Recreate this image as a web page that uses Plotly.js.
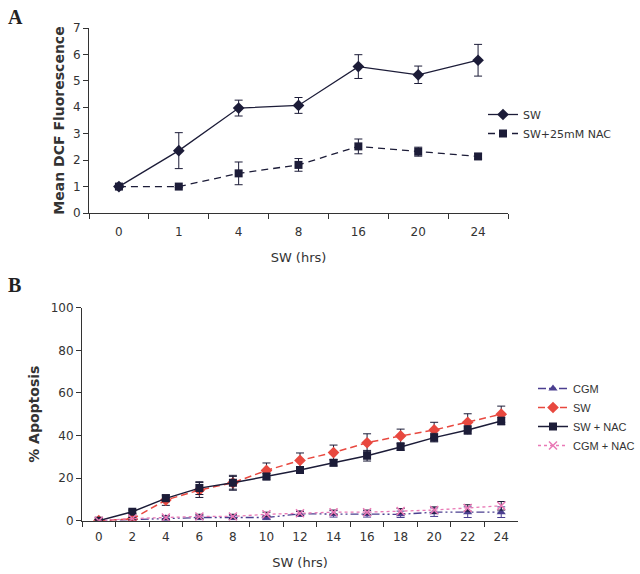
<!DOCTYPE html>
<html>
<head>
<meta charset="utf-8">
<script src="https://cdn.plot.ly/plotly-3.0.1.min.js"></script>
<style>
  html, body { margin: 0; padding: 0; background: #fff; overflow: hidden; }
  #chart { width: 640px; height: 574px; }
</style>
</head>
<body>
<div id="chart"></div>
<script>
// Panel A: DCF fluorescence
const hoursA = ['0', '1', '4', '8', '16', '20', '24'];
const swA = [1.0, 2.36, 3.97, 4.07, 5.54, 5.23, 5.78];
const swAErr = [0.05, 0.68, 0.3, 0.3, 0.45, 0.33, 0.6];
const nacA = [1.0, 1.0, 1.5, 1.82, 2.52, 2.32, 2.14];
const nacAErr = [0.05, 0.03, 0.43, 0.24, 0.28, 0.17, 0.1];

// Panel B: % apoptosis
const hoursB = ['0', '2', '4', '6', '8', '10', '12', '14', '16', '18', '20', '22', '24'];
const cgmB = [0, 0.5, 1.2, 1.5, 1.5, 1.5, 3.2, 3.2, 3.2, 3.0, 4.0, 4.0, 4.0];
const cgmBErr = [0.5, 0.5, 1, 1, 1, 1, 1.2, 1.5, 1.5, 1.5, 2, 2.5, 2.5];
const swB = [0, 0.8, 9.7, 14.4, 17.8, 23.6, 28.3, 32, 36.6, 39.8, 42.6, 46.2, 50];
const swBErr = [0.5, 1, 2.5, 3.5, 3.5, 3.5, 3.5, 3.5, 4.2, 3.2, 3.6, 4, 3.8];
const nacB = [0, 4.2, 10.5, 15.3, 17.8, 20.7, 23.8, 27.2, 30.5, 34.6, 39, 42.6, 46.8];
const nacBErr = [0.5, 0.8, 1.2, 3, 3, 1.5, 1.5, 1.5, 2.5, 1.5, 2, 2, 1.8];
const cgmNacB = [0, 1, 1.5, 2, 2, 3, 3.5, 4, 4, 4.5, 5, 6, 7];
const cgmNacBErr = [0.5, 0.5, 0.8, 1, 1, 1, 1, 1, 1, 1.2, 1.5, 1.5, 2];

const navy = '#1c1c38';
const red = '#e8483f';
const purple = '#4b3f90';
const pink = '#e979b6';

function errBar(arr, color) {
    return { type: 'data', array: arr, visible: true, color: color, thickness: 1, width: 4 };
}

const traces = [
    {
        x: hoursA, y: swA, name: 'SW', mode: 'lines+markers',
        line: { color: navy, width: 1.3 },
        marker: { symbol: 'diamond', size: 9, color: navy },
        error_y: errBar(swAErr, navy),
        xaxis: 'x', yaxis: 'y', legend: 'legend'
    },
    {
        x: hoursA, y: nacA, name: 'SW+25mM NAC', mode: 'lines+markers',
        line: { color: navy, width: 1.3, dash: '7px,5px' },
        marker: { symbol: 'square', size: 8, color: navy },
        error_y: errBar(nacAErr, navy),
        xaxis: 'x', yaxis: 'y', legend: 'legend'
    },
    {
        x: hoursB, y: cgmB, name: 'CGM', mode: 'lines+markers',
        line: { color: purple, width: 1.3, dash: '8px,3px,2px,3px,2px,3px' },
        marker: { symbol: 'triangle-up', size: 8, color: purple },
        error_y: errBar(cgmBErr, purple),
        xaxis: 'x2', yaxis: 'y2', legend: 'legend2'
    },
    {
        x: hoursB, y: swB, name: 'SW', mode: 'lines+markers',
        line: { color: red, width: 1.5, dash: '7px,4px' },
        marker: { symbol: 'diamond', size: 9, color: red },
        error_y: errBar(swBErr, navy),
        xaxis: 'x2', yaxis: 'y2', legend: 'legend2'
    },
    {
        x: hoursB, y: nacB, name: 'SW + NAC', mode: 'lines+markers',
        line: { color: navy, width: 1.5 },
        marker: { symbol: 'square', size: 8, color: navy },
        error_y: errBar(nacBErr, navy),
        xaxis: 'x2', yaxis: 'y2', legend: 'legend2'
    },
    {
        x: hoursB, y: cgmNacB, name: 'CGM + NAC', mode: 'lines+markers',
        line: { color: pink, width: 1.3, dash: '3px,3px' },
        marker: { symbol: 'x-thin-open', size: 8, color: pink, line: { color: pink, width: 1.5 } },
        error_y: errBar(cgmNacBErr, navy),
        xaxis: 'x2', yaxis: 'y2', legend: 'legend2'
    }
];

const tickFont = { family: 'DejaVu Sans, sans-serif', size: 12, color: '#333' };
const titleFont = { family: 'DejaVu Sans, sans-serif', size: 13, color: '#333' };
const yTitleFont = { family: 'DejaVu Sans, sans-serif', size: 14, color: '#333' };

const baseX = {
    type: 'category', showline: true, linecolor: '#333', linewidth: 1, automargin: false,
    ticks: 'outside', ticklen: 5, tickcolor: '#333', tickson: 'boundaries',
    showgrid: false, zeroline: false, tickfont: tickFont, fixedrange: true
};
const baseY = {
    showline: true, linecolor: '#333', linewidth: 1, automargin: false,
    ticks: 'outside', ticklen: 5, tickcolor: '#333',
    showgrid: false, zeroline: false, tickfont: tickFont, fixedrange: true
};

const layout = {
    width: 640, height: 574,
    margin: { l: 0, r: 0, t: 0, b: 0 },
    paper_bgcolor: '#fff', plot_bgcolor: '#fff',
    showlegend: true,
    xaxis: Object.assign({}, baseX, {
        domain: [89 / 640, 508 / 640], anchor: 'y', range: [-0.5, 6.5], ticklabelstandoff: 8,
        title: { text: 'SW (hrs)', font: titleFont, standoff: 14 }
    }),
    yaxis: Object.assign({}, baseY, {
        domain: [(574 - 213) / 574, (574 - 28) / 574], anchor: 'x', range: [0, 7], dtick: 1,
        title: { text: '<b>Mean DCF Fluorescence</b>', font: yTitleFont, standoff: 5 }
    }),
    xaxis2: Object.assign({}, baseX, {
        domain: [82 / 640, 518 / 640], anchor: 'y2', range: [-0.5, 12.5], ticklabelstandoff: 5,
        title: { text: 'SW (hrs)', font: titleFont, standoff: 14 }
    }),
    yaxis2: Object.assign({}, baseY, {
        domain: [(574 - 520.7) / 574, (574 - 307.7) / 574], anchor: 'x2', range: [0, 100], dtick: 20,
        title: { text: '<b>% Apoptosis</b>', font: yTitleFont, standoff: 7 }
    }),
    legend: {
        x: 483 / 640, y: (574 - 100) / 574, xanchor: 'left', yanchor: 'top',
        font: { family: 'DejaVu Sans, sans-serif', size: 11, color: '#333' },
        bgcolor: 'rgba(0,0,0,0)', tracegroupgap: 0
    },
    // narrow font so the legend stays inside the 640px paper
    legend2: {
        x: 533 / 640, y: (574 - 374) / 574, xanchor: 'left', yanchor: 'top',
        font: { family: 'Liberation Sans, sans-serif', size: 11, color: '#333' },
        bgcolor: 'rgba(0,0,0,0)', tracegroupgap: 0
    },
    annotations: [
        { text: '<b>A</b>', x: 6 / 640, y: (574 - 4) / 574, xref: 'paper', yref: 'paper', xanchor: 'left', yanchor: 'top', showarrow: false,
          font: { family: 'Liberation Serif, serif', size: 20, color: '#222' } },
        { text: '<b>B</b>', x: 6 / 640, y: (574 - 272) / 574, xref: 'paper', yref: 'paper', xanchor: 'left', yanchor: 'top', showarrow: false,
          font: { family: 'Liberation Serif, serif', size: 20, color: '#222' } }
    ]
};

Plotly.newPlot('chart', traces, layout, { displayModeBar: false, staticPlot: true });
</script>
</body>
</html>
